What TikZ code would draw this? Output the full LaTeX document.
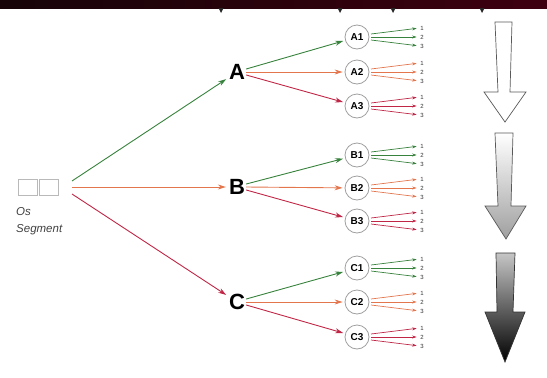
\documentclass[tikz,border=0pt]{standalone}
\usepackage{fontspec}
\setmainfont{Liberation Sans}
\usetikzlibrary{arrows.meta}
\definecolor{grn}{RGB}{55,130,60}
\definecolor{org}{RGB}{228,118,78}
\definecolor{rd}{RGB}{192,38,70}
\definecolor{barL}{RGB}{22,4,8}
\definecolor{barR}{RGB}{62,0,16}
\begin{document}
\begin{tikzpicture}[x=1pt,y=-1pt,
    big/.style={font=\bfseries\fontsize{22}{22}\selectfont, inner sep=1pt},
    sub/.style={circle, draw=gray!75, line width=0.8pt, minimum size=24pt, inner sep=0pt,
      font=\bfseries\fontsize{10}{10}\selectfont},
    osbox/.style={draw=gray!55, line width=0.8pt, minimum width=19pt, minimum height=16pt, inner sep=0pt},
    num/.style={font=\fontsize{6}{6}\selectfont, inner sep=0.5pt, text=black!80},
    link/.style={line width=0.9pt, -{Stealth[length=8pt,width=5pt]}, shorten >=2pt},
    twig/.style={line width=0.7pt, -{Stealth[length=4.5pt,width=3pt]}, shorten >=3pt},
    bigarrow/.style={draw=gray!70!black, line width=0.7pt}]
  \useasboundingbox (0,0) rectangle (547,378);
  % top strip
  \shade[left color=barL, right color=barR] (0,0) rectangle (547,8);
  \foreach \x in {221,340,393,482}
    \fill[black!85] (\x-2.5,8) -- (\x+2.5,8) -- (\x,13) -- cycle;

  % segment
  \node[osbox] (os1) at (28,187) {};
  \node[osbox] (os2) at (49,187) {};
  \node[anchor=north west, align=left, inner sep=0pt, text=black!75,
    font=\itshape\fontsize{11.5}{17}\selectfont] (oslbl) at (16,207) {Os\\Segment};
  \coordinate (osout) at (72,187);

  % main branches
  \draw
    (237,72) node[big] (A){A}
    (237,187) node[big] (B){B}
    (237,302) node[big] (C){C};
  \begin{scope}[link]
    \draw[grn] ([shift={(0,-6)}]osout) -- (A);
    \draw[org] (osout) -- (B);
    \draw[rd] ([shift={(0,7)}]osout) -- (C);
  \end{scope}

  % sub branches
  \draw
    (357,37) node[sub] (A1){A1}
    (357,72) node[sub] (A2){A2}
    (357,106) node[sub] (A3){A3}
    (357,155) node[sub] (B1){B1}
    (357,188) node[sub] (B2){B2}
    (357,221) node[sub] (B3){B3}
    (357,268) node[sub] (C1){C1}
    (357,302) node[sub] (C2){C2}
    (357,337) node[sub] (C3){C3};
  \foreach \p in {A,B,C} {
    \draw[link,grn] (\p.18) -- (\p1);
    \draw[link,org] (\p.0) -- (\p2);
    \draw[link,rd] (\p.-18) -- (\p3);
  }

  % outcomes
  \foreach \n/\c in {A1/grn,A2/org,A3/rd,B1/grn,B2/org,B3/rd,C1/grn,C2/org,C3/rd} {
    \foreach \k/\d/\s in {1/-9/-3,2/0/0,3/9/3} {
      \node[num] (\n-\k) at ([shift={(65,\d)}]\n.center) {\k};
      \draw[twig,\c] ([shift={(14,\s)}]\n.center) -- (\n-\k.west);
    }
  }

  % scale arrows
  \filldraw[bigarrow, fill=white]
    (495,22) -- (512,22) -- (510,92) -- (526,92) -- (505,122) -- (484,92) -- (498,92) -- cycle;
  \shadedraw[bigarrow, top color=white, bottom color=gray!75]
    (495,133) -- (513,133) -- (511,206) -- (526,206) -- (506,239) -- (485,206) -- (498,206) -- cycle;
  \shadedraw[bigarrow, draw=black!80, top color=gray!45, bottom color=black]
    (496,253) -- (515,253) -- (513,312) -- (525,312) -- (505,362) -- (485,312) -- (497,312) -- cycle;
\end{tikzpicture}
\end{document}
